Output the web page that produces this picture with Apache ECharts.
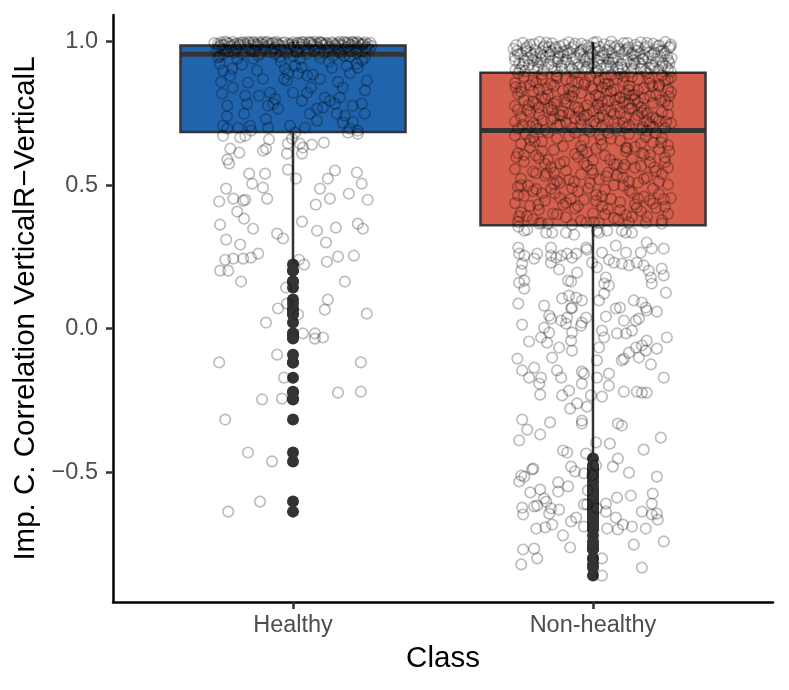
<!DOCTYPE html>
<html>
<head>
<meta charset="utf-8">
<script src="https://cdn.jsdelivr.net/npm/echarts@6/dist/echarts.min.js"></script>
<style>
  html, body { margin: 0; padding: 0; background: #fff; }
  #chart { width: 789px; height: 690px; }
</style>
</head>
<body>
<div id="chart"></div>
<script>
const categories = ['Healthy', 'Non-healthy'];
const yTicks = [-0.5, 0, 0.5, 1];

// quartiles: [Q1, median, Q3]
const healthyQuartiles = [0.685, 0.956, 0.987];
const nonHealthyQuartiles = [0.36, 0.69, 0.892];

// jittered observations: [offset from category centre, value]
const healthyPoints = [
  // dense band at the top of the box
  [-0.25,0.992],[-0.24,0.998],[-0.235,0.975],[-0.23,0.988],[-0.22,0.996],[-0.215,0.965],[-0.21,0.983],[-0.2,0.999],
  [-0.195,0.991],[-0.19,0.97],[-0.18,0.986],[-0.175,0.997],[-0.17,0.96],[-0.16,0.993],[-0.155,0.979],[-0.15,0.999],
  [-0.14,0.987],[-0.135,0.968],[-0.13,0.995],[-0.12,0.982],[-0.115,0.998],[-0.11,0.958],[-0.1,0.99],[-0.095,0.976],
  [-0.09,0.997],[-0.08,0.985],[-0.075,0.963],[-0.07,0.994],[-0.06,0.98],[-0.055,0.999],[-0.05,0.989],[-0.04,0.972],
  [-0.035,0.996],[-0.03,0.984],[-0.02,0.961],[-0.015,0.993],[-0.01,0.978],[0,0.998],[0.005,0.987],[0.01,0.966],
  [0.02,0.995],[0.025,0.981],[0.03,0.999],[0.04,0.99],[0.045,0.957],[0.05,0.974],[0.06,0.997],[0.065,0.986],
  [0.07,0.969],[0.08,0.993],[0.085,0.979],[0.09,0.999],[0.1,0.988],[0.105,0.962],[0.11,0.996],[0.12,0.983],
  [0.125,0.971],[0.13,0.998],[0.14,0.99],[0.145,0.977],[0.15,0.994],[0.16,0.959],[0.165,0.986],[0.17,0.999],
  [0.18,0.981],[0.185,0.992],[0.19,0.967],[0.2,0.997],[0.205,0.984],[0.21,0.975],[0.22,0.995],[0.225,0.989],
  [0.23,0.964],[0.24,0.998],[0.245,0.982],[0.25,0.991],[0.255,0.973],[-0.245,0.985],[-0.185,0.994],[-0.125,0.99],
  [-0.065,0.997],[-0.005,0.992],[0.055,0.995],[0.115,0.993],[0.175,0.996],[0.235,0.993],[-0.225,1.0],[-0.145,0.996],
  [-0.085,0.999],[0.035,0.997],[0.095,0.995],[0.155,0.999],[0.215,0.999],
  [-0.262,0.995],[-0.248,0.979],[-0.238,0.99],[-0.227,0.97],[-0.212,0.993],[-0.203,0.986],[-0.188,0.979],[-0.177,0.99],
  [-0.166,0.998],[-0.157,0.987],[-0.143,0.975],[-0.132,0.999],[-0.118,0.989],[-0.107,0.994],[-0.093,0.983],[-0.078,0.992],
  [-0.067,0.975],[-0.052,0.993],[-0.043,0.986],[-0.027,0.998],[-0.012,0.988],[0.003,0.982],[0.013,0.996],[0.027,0.99],
  [0.042,0.98],[0.053,0.999],[0.068,0.991],[0.077,0.984],[0.093,0.997],[0.108,0.99],[0.118,0.978],[0.133,0.994],
  [0.142,0.985],[0.158,0.99],[0.168,0.975],[0.183,0.998],[0.193,0.988],[0.207,0.994],[0.218,0.98],[0.232,0.99],
  [0.243,0.976],[0.258,0.996],[0.262,0.985],[-0.255,0.968],[-0.196,0.962],[-0.128,0.966],[-0.058,0.958],[0.015,0.963],
  [0.086,0.958],[0.152,0.965],[0.212,0.96],[-0.232,0.957],[-0.102,0.999],[0.072,0.999],[0.198,0.999],
  // inside the box below the median
  [-0.243,0.923],[-0.233,0.899],[-0.209,0.882],[-0.203,0.906],[-0.15,0.857],[-0.236,0.819],[-0.219,0.777],[-0.159,0.812],
  [-0.153,0.784],[-0.163,0.749],[-0.113,0.812],[-0.083,0.777],[-0.066,0.784],[-0.05,0.767],[0,0.822],[0.03,0.794],
  [0.047,0.822],[0.056,0.749],[0.08,0.767],[0.08,0.725],[0.106,0.805],[0.123,0.794],[0.14,0.784],[0.156,0.805],
  [0.166,0.84],[0.146,0.749],[0.173,0.742],[0.199,0.777],[0.229,0.784],[0.239,0.749],[-0.02,0.864],[0.007,0.916],
  [0.017,0.889],[0.047,0.882],[0.066,0.885],[0.13,0.909],[0.179,0.916],[0.213,0.923],[0.216,0.909],[0.246,0.864],
  [-0.027,0.906],[-0.017,0.889],[-0.233,0.707],[-0.219,0.697],[-0.183,0.7],[-0.143,0.707],[-0.083,0.7],[-0.01,0.707],
  [0.007,0.683],[0.166,0.718],[0.189,0.697],[0.216,0.69],[-0.076,0.822],[-0.133,0.941],[-0.186,0.941],[-0.116,0.951],
  [-0.243,0.951],[0.09,0.944],[0.189,0.948],[0.133,0.951],[0.239,0.944],[0.023,0.941],[-0.043,0.948],
  [-0.24,0.86],[-0.2,0.84],[-0.12,0.9],[-0.1,0.87],[-0.04,0.93],[0.03,0.91],[0.09,0.87],[0.12,0.93],
  [0.19,0.89],[0.24,0.83],[-0.17,0.92],[-0.06,0.8],[0.06,0.84],[0.15,0.86],[-0.22,0.74],[0.2,0.72],
  [-0.09,0.73],[0.1,0.77],[-0.14,0.69],[0.04,0.7],[0.23,0.935],[-0.25,0.945],[0,0.95],[-0.03,0.87],[0.17,0.95],
  // below the box
  [-0.233,0.672],[-0.176,0.666],[-0.159,0.672],[-0.209,0.627],[-0.179,0.613],[-0.219,0.589],[-0.213,0.575],[-0.1,0.62],
  [-0.09,0.627],[-0.08,0.659],[-0.02,0.61],[-0.017,0.645],[-0.003,0.662],[0.023,0.645],[0.03,0.61],[0.033,0.631],
  [0.063,0.641],[0.103,0.648],[0.183,0.683],[0.216,0.679],[-0.146,0.54],[-0.093,0.54],[-0.017,0.554],[0.01,0.523],
  [-0.136,0.505],[-0.1,0.491],[-0.223,0.488],[0.14,0.551],[0.116,0.523],[0.213,0.544],[0.229,0.505],[0.09,0.488],
  [-0.246,0.443],[-0.199,0.453],[-0.166,0.446],[-0.159,0.449],[-0.086,0.453],[-0.186,0.408],[-0.163,0.383],[0.123,0.453],
  [0.076,0.432],[0.186,0.47],[0.249,0.449],[-0.243,0.362],[-0.133,0.348],[0.03,0.373],[-0.053,0.331],[-0.033,0.314],
  [0.08,0.341],[0.143,0.352],[0.216,0.366],[0.233,0.348],[-0.223,0.31],[-0.176,0.293],[0.11,0.3],[-0.226,0.24],
  [-0.199,0.244],[-0.166,0.244],[-0.14,0.247],[-0.116,0.261],[0.02,0.24],[0.037,0.223],[0.113,0.233],[0.15,0.251],
  [0.203,0.254],
  [-0.243,0.202],[-0.216,0.202],[-0.173,0.164],[0.173,0.164],[-0.023,0.143],[0.116,0.101],[-0.02,0.087],[-0.05,0.07],
  [0.106,0.066],[0.246,0.052],[0.017,0.049],[-0.09,0.021],[0.033,-0.017],[0.073,-0.017],[0.073,-0.035],[0.1,-0.031],
  [-0.053,-0.091],[-0.246,-0.118],[0.226,-0.118],[-0.03,-0.171],[-0.103,-0.247],[-0.037,-0.244],[0.15,-0.223],[0.226,-0.22],
  [-0.226,-0.317],[-0.15,-0.432],[-0.07,-0.463],[-0.11,-0.603],[-0.216,-0.638]
];

const nonHealthyPoints = [
  // above the box
  [-0.258,0.903],[-0.237,0.911],[-0.226,0.897],[-0.199,0.908],[-0.183,0.915],[-0.164,0.9],[-0.138,0.912],[-0.121,0.896],
  [-0.104,0.906],[-0.077,0.914],[-0.063,0.899],[-0.036,0.909],[-0.024,0.902],[0.004,0.913],[0.017,0.898],[0.043,0.907],
  [0.058,0.915],[0.084,0.901],[0.097,0.91],[0.126,0.895],[0.137,0.905],[0.163,0.913],[0.176,0.899],[0.204,0.908],
  [0.218,0.902],[0.243,0.914],[0.259,0.897],
  [-0.246,0.925],[-0.228,0.934],[-0.213,0.919],[-0.186,0.93],[-0.172,0.938],[-0.147,0.922],[-0.133,0.933],[-0.106,0.917],
  [-0.094,0.928],[-0.068,0.939],[-0.052,0.921],[-0.027,0.931],[-0.013,0.924],[0.014,0.936],[0.026,0.918],[0.053,0.929],
  [0.066,0.937],[0.093,0.923],[0.112,0.932],[0.128,0.919],[0.154,0.927],[0.168,0.94],[0.193,0.921],[0.209,0.93],
  [0.232,0.926],[0.251,0.935],
  [-0.261,0.948],[-0.242,0.956],[-0.217,0.943],[-0.204,0.952],[-0.176,0.959],[-0.158,0.945],[-0.143,0.954],[-0.117,0.941],
  [-0.098,0.95],[-0.084,0.958],[-0.057,0.944],[-0.043,0.953],[-0.018,0.947],[-0.003,0.957],[0.023,0.942],[0.037,0.951],
  [0.063,0.96],[0.076,0.946],[0.104,0.955],[0.117,0.94],[0.143,0.949],[0.157,0.958],[0.184,0.944],[0.197,0.953],
  [0.224,0.947],[0.238,0.959],[0.262,0.943],
  [-0.253,0.968],[-0.224,0.976],[-0.207,0.963],[-0.193,0.972],[-0.166,0.979],[-0.152,0.965],[-0.126,0.974],[-0.113,0.961],
  [-0.087,0.97],[-0.072,0.978],[-0.046,0.964],[-0.033,0.973],[-0.008,0.967],[0.007,0.977],[0.034,0.962],[0.047,0.971],
  [0.073,0.98],[0.087,0.966],[0.114,0.975],[0.132,0.96],[0.147,0.969],[0.173,0.978],[0.186,0.964],[0.213,0.973],
  [0.227,0.967],[0.254,0.979],
  [-0.256,0.988],[-0.234,0.996],[-0.219,0.983],[-0.196,0.992],[-0.178,0.999],[-0.161,0.985],[-0.136,0.994],[-0.124,0.981],
  [-0.097,0.99],[-0.081,0.998],[-0.064,0.984],[-0.038,0.993],[-0.021,0.987],[0.002,0.997],[0.021,0.982],[0.038,0.991],
  [0.061,1.0],[0.079,0.986],[0.102,0.995],[0.119,0.98],[0.141,0.989],[0.159,0.998],[0.178,0.984],[0.201,0.993],
  [0.221,0.987],[0.241,0.999],[0.258,0.983],
  [-0.265,0.975],[-0.25,0.957],[-0.232,0.92],[-0.21,0.99],[-0.19,0.945],[-0.175,0.927],[-0.155,0.997],[-0.14,0.966],
  [-0.128,0.905],[-0.11,0.984],[-0.09,0.937],[-0.075,0.96],[-0.06,0.993],[-0.048,0.911],[-0.03,0.948],[-0.015,0.979],
  [0,0.925],[0.012,0.999],[0.03,0.952],[0.045,0.915],[0.056,0.986],[0.07,0.942],[0.088,0.975],[0.1,0.903],
  [0.115,0.996],[0.128,0.955],[0.138,0.923],[0.15,0.981],[0.165,0.938],[0.18,0.996],[0.19,0.908],[0.205,0.962],
  [0.217,0.985],[0.23,0.917],[0.247,0.951],[0.26,0.99],[-0.244,0.9],[-0.222,0.967],[-0.2,0.935],[-0.168,0.952],
  [-0.146,0.981],[-0.118,0.929],[-0.1,0.965],[-0.07,0.905],[-0.04,0.97],[-0.01,0.94],[0.022,0.968],[0.05,0.94],
  [0.082,0.91],[0.108,0.97],[0.135,0.935],[0.17,0.955],[0.2,0.916],[0.235,0.97],[0.255,0.925],[-0.26,0.935],
  [-0.185,0.903],[-0.115,0.948],[-0.02,0.91],[0.065,0.927],[0.16,0.905],[0.25,0.905],
  // between median and Q3
  [-0.25,0.697],[-0.21,0.705],[-0.16,0.692],[-0.12,0.709],[-0.07,0.7],[-0.02,0.694],[0.03,0.707],[0.08,0.698],
  [0.12,0.71],[0.16,0.693],[0.2,0.704],[0.24,0.699],[-0.19,0.708],
  [-0.26,0.722],[-0.2,0.715],[-0.14,0.728],[-0.09,0.718],[-0.04,0.73],[0.01,0.713],[0.05,0.725],[0.1,0.717],
  [0.14,0.729],[0.19,0.712],[0.22,0.724],[0.26,0.716],[-0.11,0.711],
  [-0.24,0.738],[-0.18,0.746],[-0.13,0.733],[-0.08,0.749],[-0.03,0.74],[0.02,0.735],[0.07,0.748],[0.11,0.737],
  [0.15,0.744],[0.21,0.731],[0.25,0.747],[-0.06,0.732],[0.18,0.75],
  [-0.25,0.763],[-0.21,0.754],[-0.15,0.768],[-0.1,0.757],[-0.05,0.77],[0,0.759],[0.04,0.766],[0.09,0.752],
  [0.13,0.769],[0.17,0.761],[0.23,0.755],[-0.18,0.77],[0.06,0.758],
  [-0.26,0.776],[-0.19,0.785],[-0.14,0.773],[-0.09,0.788],[-0.02,0.779],[0.03,0.79],[0.08,0.774],[0.12,0.783],
  [0.16,0.771],[0.2,0.787],[0.25,0.78],[-0.06,0.772],[0.1,0.79],
  [-0.23,0.797],[-0.17,0.806],[-0.12,0.792],[-0.07,0.809],[-0.01,0.8],[0.05,0.794],[0.09,0.807],[0.14,0.798],
  [0.19,0.81],[0.24,0.793],[-0.2,0.791],[0.02,0.81],[0.17,0.802],
  [-0.25,0.818],[-0.2,0.826],[-0.15,0.814],[-0.1,0.829],[-0.04,0.821],[0.01,0.813],[0.06,0.827],[0.11,0.819],
  [0.15,0.83],[0.21,0.816],[0.26,0.824],[-0.08,0.811],[0.13,0.812],
  [-0.24,0.839],[-0.18,0.833],[-0.13,0.847],[-0.08,0.836],[-0.03,0.85],[0.03,0.841],[0.07,0.832],[0.12,0.846],
  [0.17,0.838],[0.22,0.849],[0.25,0.834],[-0.21,0.848],[0,0.835],
  [-0.26,0.856],[-0.2,0.864],[-0.14,0.853],[-0.09,0.868],[-0.05,0.858],[0.02,0.866],[0.05,0.852],[0.1,0.861],
  [0.15,0.869],[0.19,0.855],[0.24,0.863],[-0.17,0.87],[0.08,0.87],
  [-0.23,0.878],[-0.17,0.886],[-0.12,0.874],[-0.06,0.89],[-0.01,0.881],[0.04,0.872],[0.09,0.888],[0.13,0.877],
  [0.18,0.891],[0.23,0.883],[-0.25,0.89],[0.26,0.875],[0.01,0.892],
  [-0.22,0.761],[0.07,0.72],[0.2,0.736],[-0.11,0.745],[0.15,0.789],[-0.16,0.8],[0.04,0.853],[-0.07,0.862],
  [0.22,0.843],[-0.24,0.825],[0.11,0.7],[-0.04,0.712],[0.18,0.722],[-0.13,0.784],[0.02,0.768],[0.12,0.831],
  [-0.19,0.857],[0.09,0.803],[-0.02,0.745],[0.25,0.868],
  [-0.235,0.71],[-0.168,0.726],[-0.103,0.742],[-0.046,0.756],[0.016,0.781],[0.074,0.797],[0.137,0.815],[0.198,0.845],
  [0.244,0.721],[-0.214,0.779],[-0.153,0.836],[-0.094,0.801],[-0.027,0.859],[0.046,0.829],[0.104,0.879],[0.163,0.752],
  [0.226,0.796],[-0.258,0.841],[-0.122,0.882],[0.003,0.722],[0.061,0.884],[0.188,0.871],[-0.064,0.826],[0.121,0.766],
  [-0.186,0.696],[0.253,0.809],[-0.137,0.761],[0.034,0.744],[0.166,0.701],[-0.006,0.842],
  // between Q1 and median
  [-0.25,0.372],[-0.2,0.381],[-0.15,0.365],[-0.09,0.388],[-0.04,0.376],[0.02,0.368],[0.07,0.385],[0.12,0.371],
  [0.18,0.39],[0.23,0.378],
  [-0.24,0.405],[-0.18,0.414],[-0.12,0.398],[-0.06,0.419],[0,0.402],[0.05,0.417],[0.11,0.395],[0.16,0.409],
  [0.21,0.42],[0.25,0.4],
  [-0.26,0.437],[-0.21,0.428],[-0.16,0.446],[-0.1,0.431],[-0.03,0.449],[0.03,0.426],[0.09,0.441],[0.14,0.433],
  [0.19,0.447],[0.24,0.424],
  [-0.23,0.462],[-0.17,0.471],[-0.11,0.455],[-0.05,0.478],[0.01,0.466],[0.06,0.452],[0.13,0.474],[0.17,0.46],
  [0.22,0.469],[-0.2,0.479],
  [-0.25,0.495],[-0.19,0.486],[-0.13,0.503],[-0.07,0.49],[-0.01,0.507],[0.04,0.484],[0.1,0.498],[0.15,0.509],
  [0.2,0.488],[0.25,0.502],
  [-0.24,0.523],[-0.16,0.532],[-0.12,0.515],[-0.04,0.538],[0.02,0.52],[0.08,0.534],[0.12,0.512],[0.18,0.527],
  [0.23,0.539],[-0.08,0.518],
  [-0.26,0.556],[-0.2,0.547],[-0.14,0.563],[-0.09,0.551],[-0.02,0.568],[0.05,0.544],[0.1,0.559],[0.16,0.566],
  [0.21,0.549],[0.25,0.561],
  [-0.23,0.582],[-0.18,0.594],[-0.11,0.575],[-0.05,0.598],[0,0.586],[0.07,0.572],[0.13,0.591],[0.19,0.579],
  [0.24,0.597],[-0.15,0.588],
  [-0.25,0.612],[-0.19,0.604],[-0.13,0.623],[-0.06,0.609],[0.01,0.627],[0.04,0.603],[0.11,0.618],[0.17,0.606],
  [0.22,0.625],[-0.02,0.615],
  [-0.24,0.644],[-0.17,0.652],[-0.1,0.636],[-0.03,0.658],[0.03,0.641],[0.09,0.655],[0.14,0.633],[0.2,0.648],
  [0.25,0.639],[-0.21,0.631],
  [-0.26,0.673],[-0.2,0.668],[-0.15,0.684],[-0.08,0.671],[-0.01,0.687],[0.06,0.662],[0.12,0.678],[0.18,0.689],
  [0.23,0.665],[0.02,0.676],
  [-0.22,0.392],[-0.07,0.362],[0.09,0.413],[0.2,0.436],[-0.14,0.487],[0.03,0.461],[0.17,0.522],[-0.19,0.541],
  [-0.03,0.577],[0.11,0.631],[0.24,0.58],[-0.12,0.663],[-0.23,0.605],[0.07,0.5],[0.15,0.453],[-0.09,0.438],
  [0,0.541],[-0.17,0.619],[0.19,0.605],[0.05,0.681],[-0.05,0.427],[0.13,0.39],[-0.11,0.509],[0.22,0.512],
  [-0.25,0.465],[0.08,0.573],[-0.16,0.574],[0.16,0.646],[-0.04,0.636],[0.26,0.455],[-0.18,0.366],[0.04,0.399],
  [-0.13,0.543],[0.1,0.526],[-0.21,0.657],[0.21,0.682],[-0.06,0.683],[0.14,0.561],[-0.24,0.5],[0.01,0.445],
  [-0.246,0.391],[-0.183,0.432],[-0.127,0.471],[-0.063,0.512],[-0.004,0.553],[0.057,0.589],[0.114,0.628],[0.176,0.668],
  [0.236,0.451],[-0.216,0.498],[-0.154,0.541],[-0.096,0.582],[-0.036,0.621],[0.026,0.659],[0.084,0.381],[0.146,0.422],
  [0.204,0.562],[0.254,0.618],[-0.256,0.598],[-0.194,0.652],[-0.133,0.401],[-0.074,0.452],[-0.016,0.489],[0.044,0.531],
  [0.106,0.571],[0.164,0.612],[0.227,0.649],[-0.224,0.679],[0.002,0.371],[0.121,0.482],
  // below the box
  [-0.249,0.355],[-0.229,0.341],[-0.219,0.345],[-0.173,0.369],[-0.156,0.334],[-0.136,0.334],[-0.09,0.334],[-0.063,0.327],
  [-0.023,0.369],[0.013,0.341],[0.02,0.334],[0.047,0.341],[0.096,0.341],[0.11,0.334],[0.13,0.334],[0.176,0.369],
  [0.229,0.366],[-0.249,0.282],[-0.246,0.261],[-0.229,0.254],[-0.186,0.261],[-0.196,0.244],[-0.14,0.282],[-0.14,0.254],
  [-0.123,0.247],[-0.106,0.254],[-0.086,0.261],[-0.07,0.247],[-0.056,0.261],[-0.023,0.282],[-0.02,0.275],[0.03,0.265],
  [0.076,0.289],[0.11,0.265],[0.159,0.265],[0.179,0.3],[0.196,0.279],[0.236,0.279],[-0.236,0.226],[-0.239,0.202],
  [-0.246,0.16],[-0.229,0.167],[-0.229,0.139],[-0.14,0.23],[-0.113,0.206],[-0.053,0.195],[-0.083,0.167],[-0.073,0.164],
  [-0.003,0.23],[0.013,0.213],[0.053,0.24],[0.07,0.23],[0.096,0.226],[0.12,0.22],[0.146,0.23],[0.169,0.22],
  [0.186,0.202],[0.193,0.178],[0.229,0.209],[0.236,0.185],[0.043,0.178],[0.037,0.157],[0.053,0.15],[0.196,0.157],
  [0.243,0.125],[0.037,0.122],[-0.103,0.105],[-0.08,0.115],[-0.056,0.108],[-0.037,0.098],[-0.249,0.087],[-0.163,0.08],
  [-0.07,0.073],[-0.073,0.07],[0.02,0.098],[0.136,0.098],[0.163,0.091],[0.176,0.073],[0.179,0.063],[0.213,0.059],
  [0.076,0.07],[0.09,0.073],[-0.146,0.045],[-0.14,0.035],[-0.106,0.028],[-0.086,0.038],[-0.09,0.017],[-0.037,0.021],
  [-0.023,0.038],[-0.04,0.01],[0.043,0.042],[0.103,0.028],[0.153,0.035],[0.143,0.028],[-0.236,0.014],[-0.163,0.003],
  [-0.146,-0.014],[0.03,-0.007],[0.037,-0.031],[0.08,-0.017],[0.11,-0.017],[0.13,-0.007],[-0.213,-0.045],[-0.173,-0.031],
  [-0.153,-0.049],[-0.073,-0.042],[-0.07,-0.014],[0.02,-0.066],[-0.113,-0.066],[-0.07,-0.077],[-0.136,-0.101],[-0.252,-0.105],
  [-0.236,-0.146],[-0.213,-0.171],[-0.196,-0.136],[-0.179,-0.192],[-0.173,-0.171],[-0.12,-0.146],[-0.106,-0.171],[-0.037,-0.15],
  [-0.03,-0.157],[0.013,-0.111],[0.013,-0.171],[0.053,-0.157],[0.053,-0.199],[0.096,-0.111],[0.103,-0.105],[0.12,-0.084],
  [0.143,-0.066],[0.163,-0.059],[0.153,-0.101],[0.176,-0.077],[0.179,-0.042],[0.193,-0.125],[0.213,-0.07],[0.246,-0.031],
  [0.236,-0.171],[-0.08,-0.216],[-0.037,-0.192],
  [-0.176,-0.23],[-0.103,-0.233],[-0.076,-0.279],[-0.053,-0.261],[-0.02,-0.272],[-0.007,-0.233],[0.03,-0.237],[0.103,-0.22],
  [0.146,-0.22],[0.163,-0.223],[0.179,-0.223],[-0.236,-0.317],[-0.219,-0.352],[-0.143,-0.327],[-0.176,-0.369],[-0.246,-0.39],
  [-0.037,-0.321],[-0.037,-0.331],[0.083,-0.331],[0.096,-0.338],[0.226,-0.38],[0.01,-0.397],[0.056,-0.401],[0.169,-0.422],
  [-0.1,-0.425],[-0.086,-0.432],[-0.023,-0.436],[0.083,-0.453],[-0.199,-0.488],[-0.203,-0.491],[-0.239,-0.512],[-0.246,-0.533],
  [-0.229,-0.516],[-0.073,-0.481],[-0.06,-0.498],[0.01,-0.477],[0.066,-0.481],[0.12,-0.502],[0.213,-0.516],[-0.03,-0.505],
  [-0.003,-0.512],[-0.116,-0.536],[-0.083,-0.55],[-0.116,-0.568],[-0.176,-0.561],[-0.209,-0.571],[-0.163,-0.592],[-0.156,-0.603],
  [-0.017,-0.564],[0.08,-0.589],[0.126,-0.582],[0.199,-0.575],[-0.236,-0.624],[-0.233,-0.648],[-0.196,-0.62],[-0.186,-0.617],
  [-0.14,-0.627],[-0.113,-0.631],[-0.146,-0.645],[-0.03,-0.613],[-0.02,-0.613],[0.013,-0.627],[0.043,-0.61],[0.043,-0.638],
  [0.196,-0.61],[0.196,-0.648],[0.213,-0.645],[0.216,-0.666],[0.163,-0.638],[0.076,-0.659],[0.1,-0.683],[0.083,-0.7],
  [0.13,-0.69],[0.176,-0.697],[-0.073,-0.672],[-0.056,-0.659],[-0.03,-0.69],[0.047,-0.697],[-0.189,-0.697],[-0.159,-0.693],
  [-0.136,-0.683],[-0.1,-0.721],[-0.233,-0.77],[-0.196,-0.767],[-0.186,-0.801],[-0.239,-0.822],[-0.076,-0.763],[0.136,-0.753],
  [0.236,-0.742],[0.03,-0.801],[0.163,-0.833],[0.03,-0.861]
];

const FONT = "'Liberation Sans', Arial, Helvetica, sans-serif";

function boxStats(points, q) {
  const iqr = q[2] - q[0];
  const lo = q[0] - 1.5 * iqr;
  const hi = q[2] + 1.5 * iqr;
  const vals = points.map(p => p[1]);
  const inside = vals.filter(v => v >= lo && v <= hi);
  return {
    low: Math.min(...inside),
    high: Math.max(...inside),
    outliers: vals.filter(v => v < lo || v > hi)
  };
}

const groups = [
  { points: healthyPoints, q: healthyQuartiles, fill: '#2064ad' },
  { points: nonHealthyPoints, q: nonHealthyQuartiles, fill: '#d6604d' }
];

const boxData = [];
const outlierData = [];
const jitterData = [];
groups.forEach((g, i) => {
  const x = i + 1;
  const s = boxStats(g.points, g.q);
  boxData.push({ value: [x, s.low, g.q[0], g.q[1], g.q[2], s.high], itemStyle: { color: g.fill } });
  s.outliers.forEach(v => outlierData.push([x, v]));
  g.points.forEach(p => jitterData.push([x + p[0], p[1]]));
});

function renderBox(params, api) {
  const x = api.value(0);
  const low = api.coord([x, api.value(1)]);
  const q1 = api.coord([x, api.value(2)]);
  const med = api.coord([x, api.value(3)]);
  const q3 = api.coord([x, api.value(4)]);
  const high = api.coord([x, api.value(5)]);
  const half = api.size([0.75, 0])[0] / 2;
  const cx = q1[0];
  const edge = { stroke: '#333333', lineWidth: 2.5 };
  return {
    type: 'group',
    children: [
      { type: 'line', shape: { x1: cx, y1: high[1], x2: cx, y2: q3[1] }, style: edge },
      { type: 'line', shape: { x1: cx, y1: q1[1], x2: cx, y2: low[1] }, style: edge },
      { type: 'rect', shape: { x: cx - half, y: q3[1], width: half * 2, height: q1[1] - q3[1] },
        style: { fill: api.visual('color'), stroke: '#333333', lineWidth: 2.5 } },
      { type: 'line', shape: { x1: cx - half, y1: med[1], x2: cx + half, y2: med[1] },
        style: { stroke: '#333333', lineWidth: 5 } }
    ]
  };
}

const chart = echarts.init(document.getElementById('chart'));
chart.setOption({
  animation: false,
  backgroundColor: '#ffffff',
  textStyle: { fontFamily: FONT },
  grid: { left: 113, right: 16, top: 15, bottom: 88 },
  xAxis: {
    type: 'value',
    min: 0.4,
    max: 2.6,
    name: 'Class',
    nameLocation: 'middle',
    nameGap: 42,
    nameTextStyle: { color: '#000', fontSize: 29.5, fontFamily: FONT },
    axisLine: { onZero: false, lineStyle: { color: '#000', width: 2.5 } },
    axisTick: { show: true, customValues: [1, 2], length: 7, lineStyle: { color: '#333', width: 2.5 } },
    axisLabel: {
      customValues: [1, 2],
      formatter: v => categories[Math.round(v) - 1],
      color: '#4d4d4d', fontSize: 23.5, margin: 12, fontFamily: FONT
    },
    splitLine: { show: false }
  },
  yAxis: {
    type: 'value',
    min: -0.953,
    max: 1.093,
    name: 'Imp. C. Correlation VerticalR\u2212VerticalL',
    nameLocation: 'middle',
    nameGap: 66,
    nameTextStyle: { color: '#000', fontSize: 29.5, fontFamily: FONT },
    axisLine: { onZero: false, lineStyle: { color: '#000', width: 2.5 } },
    axisTick: { show: true, customValues: yTicks, length: 7, lineStyle: { color: '#333', width: 2.5 } },
    axisLabel: {
      customValues: yTicks,
      formatter: v => (v < 0 ? '\u2212' : '') + Math.abs(v).toFixed(1),
      color: '#4d4d4d', fontSize: 23.5, margin: 15, fontFamily: FONT
    },
    splitLine: { show: false }
  },
  series: [
    {
      type: 'custom',
      renderItem: renderBox,
      data: boxData,
      z: 2,
      silent: true
    },
    {
      type: 'scatter',
      data: outlierData,
      symbol: 'circle',
      symbolSize: 12,
      itemStyle: { color: '#333333', opacity: 1 },
      z: 3,
      silent: true
    },
    {
      type: 'scatter',
      data: jitterData,
      symbol: 'circle',
      symbolSize: 10.5,
      itemStyle: { color: 'rgba(0,0,0,0)', borderColor: 'rgba(0,0,0,0.32)', borderWidth: 1.7 },
      z: 4,
      silent: true
    }
  ]
});
</script>
</body>
</html>
